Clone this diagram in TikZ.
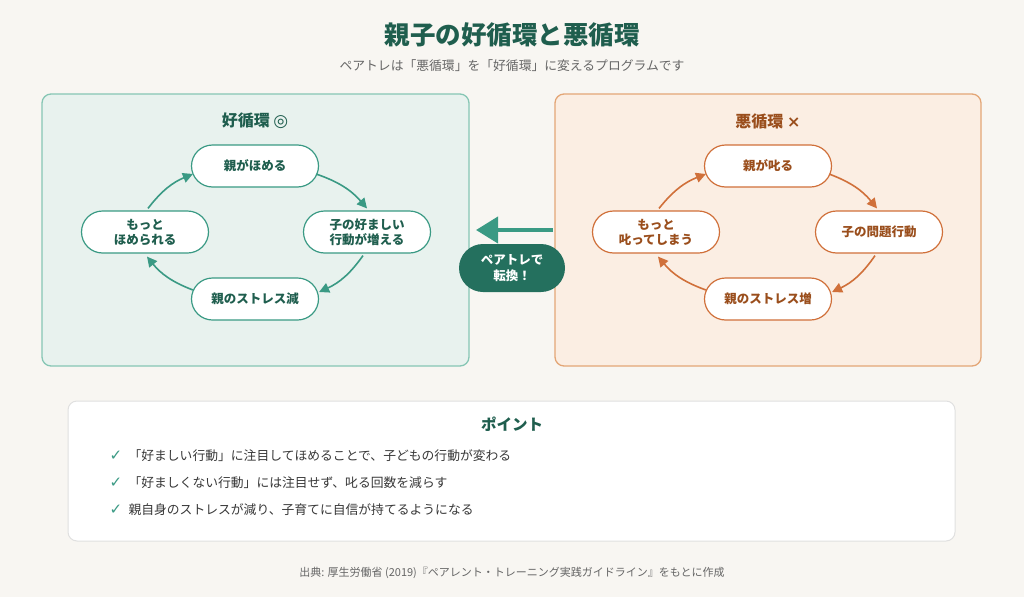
\documentclass[tikz,border=0pt]{standalone}
\usepackage{fontspec}
\setmainfont{Noto Sans CJK JP}
\newfontfamily\djv{DejaVu Sans}
\usetikzlibrary{arrows.meta,calc}
\definecolor{bg}{HTML}{F8F6F2}
\definecolor{gtxt}{HTML}{1F5E4E}
\definecolor{gline}{HTML}{3A9A84}
\definecolor{gfill}{HTML}{E8F2EE}
\definecolor{gbord}{HTML}{86C6B4}
\definecolor{otxt}{HTML}{9A4E1C}
\definecolor{oline}{HTML}{D0703A}
\definecolor{ofill}{HTML}{FBEEE3}
\definecolor{obord}{HTML}{E3A676}
\definecolor{badge}{HTML}{24705E}
\definecolor{gray}{HTML}{666666}
\tikzset{
 gnode/.style={draw=gline,line width=1.2pt,fill=white,rounded corners=21pt,minimum width=127pt,minimum height=42pt,align=center,font=\fontsize{12.5}{15}\selectfont\bfseries,text=gtxt},
 onode/.style={gnode,draw=oline,text=otxt},
 garr/.style={draw=gline,line width=1.6pt,-{Triangle[length=10pt,width=10pt]}},
 oarr/.style={garr,draw=oline},
}
\begin{document}
\begin{tikzpicture}[x=1pt,y=-1pt]
\fill[bg] (0,0) rectangle (1024,597);
\useasboundingbox (0,0) rectangle (1024,597);
\node[font=\fontsize{25.5}{30}\selectfont\bfseries,text=gtxt] (title) at (512,35) {親子の好循環と悪循環};
\node[font=\fontsize{12.8}{15}\selectfont,text=gray] (sub) at (512,66) {ペアトレは「悪循環」を「好循環」に変えるプログラムです};
% panels
\draw[gbord,fill=gfill,line width=1.3pt,rounded corners=9pt] (42,94) rectangle (469,366);
\draw[obord,fill=ofill,line width=1.3pt,rounded corners=9pt] (555,94) rectangle (981,366);
\node[font=\fontsize{16}{18}\selectfont\bfseries,text=gtxt] (gt) at (255,121) {好循環 {\djv\fontsize{17}{18}\selectfont ◎}};
\node[font=\fontsize{16}{18}\selectfont\bfseries,text=otxt] (ot) at (768,121) {悪循環 {\djv\bfseries ×}};
% good cycle
\node[gnode] (g1) at (255,166) {親がほめる};
\node[gnode] (g2) at (367,232) {子の好ましい\\行動が増える};
\node[gnode] (g3) at (255,299) {親のストレス減};
\node[gnode] (g4) at (145,232) {もっと\\ほめられる};
\draw[garr] ($(g1.east)+(-3,8)$) to[bend left=15] ($(g2.north)+(0,-2)$);
\draw[garr] ($(g2.south)+(-4,2)$) to[bend left=15] ($(g3.east)+(0,-7)$);
\draw[garr] ($(g3.west)+(2,-9)$) to[bend left=15] ($(g4.south)+(2,3)$);
\draw[garr] ($(g4.north)+(3,-2)$) to[bend left=15] ($(g1.west)+(2,8)$);
% bad cycle
\node[onode] (o1) at (768,166) {親が叱る};
\node[onode] (o2) at (879,232) {子の問題行動};
\node[onode] (o3) at (768,299) {親のストレス増};
\node[onode] (o4) at (656,232) {もっと\\叱ってしまう};
\draw[oarr] ($(o1.east)+(-3,8)$) to[bend left=15] ($(o2.north)+(-2,-2)$);
\draw[oarr] ($(o2.south)+(-4,2)$) to[bend left=15] ($(o3.east)+(0,-7)$);
\draw[oarr] ($(o3.west)+(2,-9)$) to[bend left=15] ($(o4.south)+(2,3)$);
\draw[oarr] ($(o4.north)+(3,-2)$) to[bend left=15] ($(o1.west)+(2,8)$);
% transform
\coordinate (as) at (553,230);
\coordinate (ae) at (476,230);
\draw[draw=gline,line width=4pt,-{Triangle[length=22pt,width=26pt]}] (as) -- (ae);
\node[fill=badge,rounded corners=24pt,minimum width=106pt,minimum height=48pt,align=center,text=white,font=\fontsize{12.5}{16}\selectfont\bfseries] (bd) at (512,268) {ペアトレで\\転換！};
% points
\draw[draw=black!12,fill=white,line width=1pt,rounded corners=9pt] (68,401) rectangle (955,541);
\node[font=\fontsize{15.5}{18}\selectfont\bfseries,text=gtxt] (pt) at (512,424) {ポイント};
\foreach \y/\t [count=\i] in {456/「好ましい行動」に注目してほめることで、子どもの行動が変わる,483/「好ましくない行動」には注目せず、叱る回数を減らす,510/親自身のストレスが減り、子育てに自信が持てるようになる}{
 \node[text=gline,font=\fontsize{15}{16}\selectfont\djv\bfseries,anchor=west] (c\i) at (106,\y) {✓};
 \node[text=black!78,font=\fontsize{12.8}{14}\selectfont,anchor=west] (p\i) at (125,\y) {\t};
}
\node[text=gray,font=\fontsize{11}{13}\selectfont] (src) at (512,573) {出典: 厚生労働省 (2019)『ペアレント・トレーニング実践ガイドライン』をもとに作成};
\end{tikzpicture}
\end{document}
